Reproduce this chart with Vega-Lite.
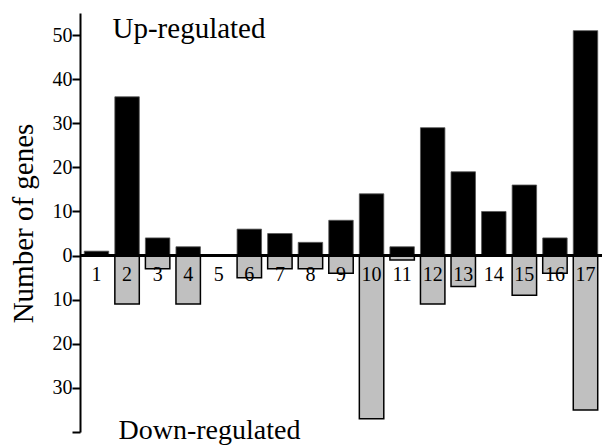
{
  "$schema": "https://vega.github.io/schema/vega-lite/v6.json",
  "width": 522,
  "height": 419,
  "autosize": {"type": "none"},
  "padding": {"left": 80, "top": 13, "right": 0, "bottom": 14},
  "background": "white",
  "config": {
    "view": {"stroke": null},
    "font": "Liberation Serif"
  },
  "data": {
    "values": [
      {"cat": "1", "up": 1, "down": 0},
      {"cat": "2", "up": 36, "down": -11},
      {"cat": "3", "up": 4, "down": -3},
      {"cat": "4", "up": 2, "down": -11},
      {"cat": "5", "up": 0, "down": 0},
      {"cat": "6", "up": 6, "down": -5},
      {"cat": "7", "up": 5, "down": -3},
      {"cat": "8", "up": 3, "down": -3},
      {"cat": "9", "up": 8, "down": -4},
      {"cat": "10", "up": 14, "down": -37},
      {"cat": "11", "up": 2, "down": -1},
      {"cat": "12", "up": 29, "down": -11},
      {"cat": "13", "up": 19, "down": -7},
      {"cat": "14", "up": 10, "down": 0},
      {"cat": "15", "up": 16, "down": -9},
      {"cat": "16", "up": 4, "down": -4},
      {"cat": "17", "up": 51, "down": -35}
    ]
  },
  "encoding": {
    "x": {
      "field": "cat",
      "type": "ordinal",
      "sort": null,
      "scale": {"paddingInner": 0.2, "paddingOuter": 0.14},
      "axis": {
        "domain": false,
        "ticks": false,
        "labels": false,
        "title": "Down-regulated",
        "titleFont": "Liberation Serif",
        "titleFontSize": 28,
        "titleFontWeight": "normal",
        "titleColor": "black",
        "titleAnchor": "start",
        "titleAlign": "left",
        "titleBaseline": "alphabetic",
        "titleX": 38,
        "titleY": 6
      }
    }
  },
  "layer": [
    {
      "mark": {"type": "bar", "color": "black", "stroke": "#555555", "strokeWidth": 0.8},
      "encoding": {
        "y": {
          "field": "up",
          "type": "quantitative",
          "scale": {"domain": [-40, 55], "nice": false, "zero": true},
          "axis": {
            "values": [-40, -35, -30, -25, -20, -15, -10, -5, 0, 5, 10, 15, 20, 25, 30, 35, 40, 45, 50, 55],
            "labelExpr": "(datum.value % 10 === 0 && datum.value > -40) ? '' + abs(datum.value) : ''",
            "labelFont": "Liberation Serif",
            "labelFontSize": 20,
            "labelColor": "black",
            "labelPadding": 0,
            "domainColor": "black",
            "domainWidth": 2,
            "tickColor": "black",
            "tickWidth": 2,
            "tickSize": {"condition": {"test": "datum.value % 10 === 0", "value": 8}, "value": 4},
            "grid": false,
            "title": "Number of genes",
            "titleFont": "Liberation Serif",
            "titleFontSize": 29,
            "titleFontWeight": "normal",
            "titleColor": "black",
            "titleBaseline": "alphabetic",
            "titleX": -48,
            "titleY": 210,
            "titleAlign": "center"
          }
        }
      }
    },
    {
      "mark": {"type": "bar", "color": "#c0c0c0", "stroke": "black", "strokeWidth": 1.5},
      "transform": [{"filter": "datum.down < 0"}],
      "encoding": {
        "y": {"field": "down", "type": "quantitative"}
      }
    },
    {
      "mark": {"type": "rule", "color": "black", "strokeWidth": 2.5},
      "encoding": {"y": {"datum": 0}, "x": null}
    },
    {
      "mark": {"type": "text", "font": "Liberation Serif", "fontSize": 20, "color": "black", "baseline": "alphabetic", "dy": 25},
      "encoding": {
        "y": {"datum": 0},
        "text": {"field": "cat"}
      }
    },
    {
      "data": {"values": [{"label": "Up-regulated", "cat": "1", "level": 49.3}]},
      "mark": {"type": "text", "font": "Liberation Serif", "fontSize": 29, "color": "black", "align": "left", "baseline": "alphabetic", "dx": 16},
      "encoding": {
        "y": {"field": "level", "type": "quantitative"},
        "text": {"field": "label"}
      }
    }
  ]
}
